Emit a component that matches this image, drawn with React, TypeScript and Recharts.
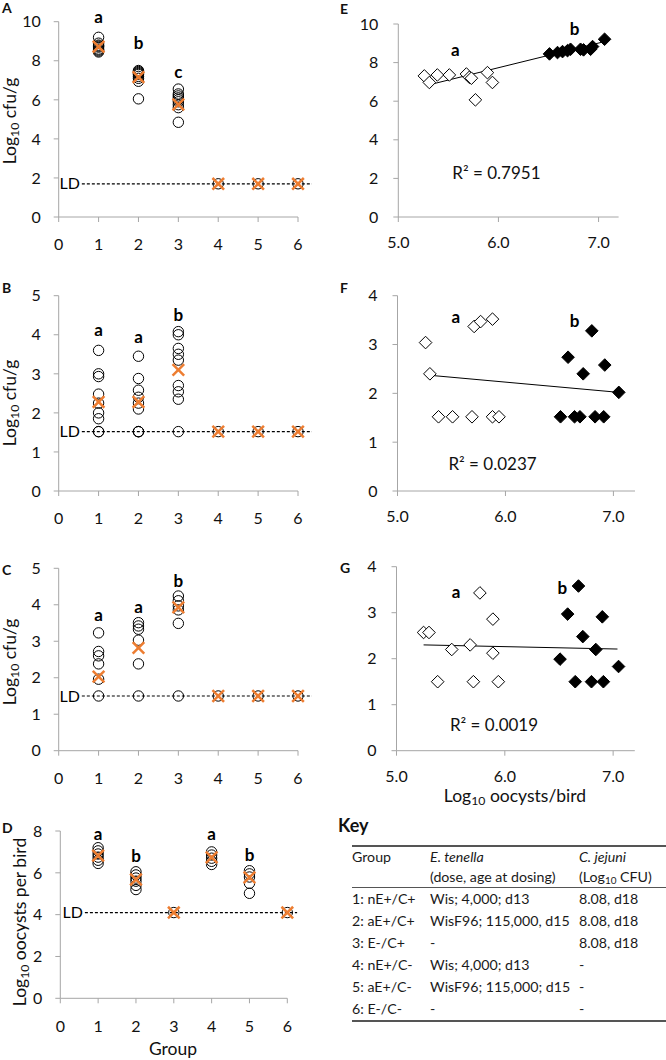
import { ScatterChart, Scatter, XAxis, YAxis, ReferenceLine, ReferenceDot } from "recharts";

const FONT = "Lato, 'DejaVu Sans', sans-serif";
const AXIS = "#a6a6a6";
const ORANGE = "#ed7d31";

const groups = [1, 2, 3, 4, 5, 6];
const groupTicks = [0, 1, 2, 3, 4, 5, 6];

// A – caecal C. jejuni, log10 cfu/g (one list per group)
const cecaA = [
  [9.2, 8.9, 8.8, 8.75, 8.7, 8.6, 8.55, 8.5, 8.45],
  [7.5, 7.45, 7.4, 7.35, 7.3, 7.2, 7.1, 6.95, 6.05],
  [6.55, 6.3, 6.2, 6.1, 6.0, 5.9, 5.75, 5.6, 4.85],
  [1.7],
  [1.7],
  [1.7],
];
const meanA = [8.72, 7.16, 5.76, 1.7, 1.7, 1.7];
const lettersA = ["a", "b", "c"];

// B
const cecaB = [
  [3.6, 3.0, 2.93, 2.48, 2.25, 2.0, 1.85, 1.52, 1.52],
  [3.45, 2.88, 2.58, 2.4, 2.25, 2.1, 1.52, 1.52, 1.52],
  [4.08, 4.0, 3.65, 3.5, 3.35, 2.7, 2.54, 2.35, 1.52],
  [1.52],
  [1.52],
  [1.52],
];
const meanB = [2.28, 2.28, 3.1, 1.52, 1.52, 1.52];
const lettersB = ["a", "a", "b"];

// C
const cecaC = [
  [3.23, 2.72, 2.6, 2.38, 1.96, 1.5],
  [3.51, 3.42, 3.33, 3.03, 2.38, 1.5],
  [4.24, 4.11, 3.97, 3.86, 3.49, 1.5],
  [1.5],
  [1.5],
  [1.5],
];
const meanC = [2.03, 2.82, 3.93, 1.5, 1.5, 1.5];
const lettersC = ["a", "a", "b"];

// D – oocysts per bird
const oocystsD = [
  [7.2, 7.05, 6.9, 6.75, 6.6, 6.45],
  [6.05, 5.9, 5.75, 5.6, 5.4, 5.2],
  [4.1],
  [7.0, 6.85, 6.7, 6.55, 6.4],
  [6.1, 5.95, 5.8, 5.5, 5.02],
  [4.1],
];
const meanD = [6.82, 5.68, 4.1, 6.74, 5.78, 4.1];
const lettersD = ["a", "b", "", "a", "b"];

// E, F, G – [log10 oocysts/bird, log10 cfu/g]
const naiveE = [[5.26, 7.31], [5.31, 6.97], [5.39, 7.36], [5.51, 7.36], [5.68, 7.41], [5.71, 7.24], [5.73, 7.19], [5.77, 6.07], [5.89, 7.48], [5.94, 6.97]];
const adaptedE = [[6.51, 8.45], [6.59, 8.52], [6.64, 8.57], [6.69, 8.62], [6.72, 8.69], [6.82, 8.69], [6.85, 8.66], [6.92, 8.69], [6.94, 8.83], [7.06, 9.21]];
const trendE = [[5.3, 6.84], [7.06, 9.09]];

const naiveF = [[5.26, 3.04], [5.3, 2.4], [5.38, 1.52], [5.51, 1.52], [5.69, 1.52], [5.71, 3.37], [5.77, 3.47], [5.88, 3.52], [5.88, 1.52], [5.94, 1.52]];
const adaptedF = [[6.51, 1.52], [6.58, 2.74], [6.64, 1.52], [6.69, 1.52], [6.72, 2.4], [6.8, 3.28], [6.83, 1.52], [6.91, 1.52], [6.92, 2.58], [7.05, 2.02]];
const trendF = [[5.3, 2.37], [7.05, 2.02]];

const naiveG = [[5.25, 2.57], [5.3, 2.57], [5.38, 1.5], [5.51, 2.2], [5.68, 2.3], [5.71, 1.5], [5.77, 3.43], [5.89, 2.86], [5.89, 2.12], [5.94, 1.5]];
const adaptedG = [[6.51, 1.99], [6.58, 2.97], [6.65, 1.5], [6.68, 3.58], [6.72, 2.48], [6.8, 1.5], [6.84, 2.2], [6.9, 2.91], [6.91, 1.5], [7.05, 1.83]];
const trendG = [[5.25, 2.3], [7.04, 2.21]];

const oocystTicks = [5, 6, 7];

type Box = { x: number; y: number; w: number; h: number };
type Plot = { l: number; t: number; r: number; b: number };

const YW = 40;
const XH = 40;

const marginFor = (box: Box, plot: Plot) => ({
  left: plot.l - box.x - YW,
  top: plot.t - box.y,
  right: box.x + box.w - plot.r,
  bottom: box.y + box.h - plot.b - XH,
});

const OpenCircle = (p: any) => (
  <circle cx={p.cx} cy={p.cy} r={5.2} fill="none" stroke="#000" strokeWidth={1} />
);

const MeanCross = (p: any) => {
  const s = 5.8;
  return (
    <g stroke={ORANGE} strokeWidth={2.5}>
      <line x1={p.cx - s} y1={p.cy - s} x2={p.cx + s} y2={p.cy + s} />
      <line x1={p.cx - s} y1={p.cy + s} x2={p.cx + s} y2={p.cy - s} />
    </g>
  );
};

const Diamond = (filled: boolean) => (p: any) => {
  const s = 6.3;
  return (
    <polygon
      points={`${p.cx},${p.cy - s} ${p.cx + s},${p.cy} ${p.cx},${p.cy + s} ${p.cx - s},${p.cy}`}
      fill={filled ? "#000" : "#fff"}
      stroke="#000"
      strokeWidth={1}
    />
  );
};

const tickStyle = { fontSize: 16, fill: "#111" };
const letterStyle = { fontSize: 17, fontWeight: 700, fill: "#000" };

type StripProps = {
  box: Box;
  plot: Plot;
  values: number[][];
  means: number[];
  yMax: number;
  yTicks: number[];
  ld: number;
  ldSpan: number[];
  letters: string[];
  letterY: number[];
};

const StripPanel = ({ box, plot, values, means, yMax, yTicks, ld, ldSpan, letters, letterY }: StripProps) => {
  const points = values.flatMap((vs, i) => vs.map((y) => ({ x: groups[i], y })));
  const meanPts = means.map((y, i) => ({ x: groups[i], y }));
  return (
    <div style={{ position: "absolute", left: box.x, top: box.y }}>
      <ScatterChart width={box.w} height={box.h} margin={marginFor(box, plot)}>
        <XAxis
          type="number"
          dataKey="x"
          domain={[0, 6]}
          ticks={groupTicks}
          stroke={AXIS}
          tickSize={5}
          tickMargin={17}
          height={XH}
          tick={tickStyle}
        />
        <YAxis
          type="number"
          dataKey="y"
          domain={[0, yMax]}
          ticks={yTicks}
          stroke={AXIS}
          tickSize={5}
          tickMargin={13}
          width={YW}
          tick={tickStyle}
        />
        <ReferenceLine
          segment={[{ x: ldSpan[0], y: ld }, { x: ldSpan[1], y: ld }]}
          stroke="#000"
          strokeWidth={1.2}
          strokeDasharray="3 2"
          ifOverflow="visible"
          label={{ value: "LD", position: "left", offset: 2, fontSize: 16, fill: "#000" }}
        />
        <Scatter data={points} shape={OpenCircle} isAnimationActive={false} />
        <Scatter data={meanPts} shape={MeanCross} isAnimationActive={false} />
        {letters.map((t, i) =>
          t ? (
            <ReferenceDot
              key={i}
              x={groups[i]}
              y={letterY[i]}
              r={0}
              ifOverflow="visible"
              label={{ value: t, position: "center", ...letterStyle }}
            />
          ) : null
        )}
      </ScatterChart>
    </div>
  );
};

type CorrProps = {
  box: Box;
  plot: Plot;
  naive: number[][];
  adapted: number[][];
  trend: number[][];
  yMax: number;
  yTicks: number[];
  r2: string;
  r2At: number[];
  aAt: number[];
  bAt: number[];
};

const CorrPanel = ({ box, plot, naive, adapted, trend, yMax, yTicks, r2, r2At, aAt, bAt }: CorrProps) => (
  <div style={{ position: "absolute", left: box.x, top: box.y }}>
    <ScatterChart width={box.w} height={box.h} margin={marginFor(box, plot)}>
      <XAxis
        type="number"
        dataKey="x"
        domain={[5, 7.2]}
        ticks={oocystTicks}
        tickFormatter={(v: number) => v.toFixed(1)}
        stroke={AXIS}
        tickSize={5}
        tickMargin={15}
        height={XH}
        tick={tickStyle}
      />
      <YAxis
        type="number"
        dataKey="y"
        domain={[0, yMax]}
        ticks={yTicks}
        stroke={AXIS}
        tickSize={5}
        tickMargin={15}
        width={YW}
        tick={tickStyle}
      />
      <ReferenceLine
        segment={[{ x: trend[0][0], y: trend[0][1] }, { x: trend[1][0], y: trend[1][1] }]}
        stroke="#000"
        strokeWidth={1}
        ifOverflow="visible"
      />
      <Scatter data={naive.map(([x, y]) => ({ x, y }))} shape={Diamond(false)} isAnimationActive={false} />
      <Scatter data={adapted.map(([x, y]) => ({ x, y }))} shape={Diamond(true)} isAnimationActive={false} />
      <ReferenceDot x={aAt[0]} y={aAt[1]} r={0} ifOverflow="visible" label={{ value: "a", position: "center", ...letterStyle }} />
      <ReferenceDot x={bAt[0]} y={bAt[1]} r={0} ifOverflow="visible" label={{ value: "b", position: "center", ...letterStyle }} />
      <ReferenceDot
        x={r2At[0]}
        y={r2At[1]}
        r={0}
        ifOverflow="visible"
        label={{ value: r2, position: "center", fontSize: 17, fill: "#111" }}
      />
    </ScatterChart>
  </div>
);

const PanelLetter = ({ x, y, t }: { x: number; y: number; t: string }) => (
  <div style={{ position: "absolute", left: x, top: y, fontSize: 14, fontWeight: 700, lineHeight: 1 }}>{t}</div>
);

const Log10 = ({ rest }: { rest: string }) => (
  <span>
    Log<sub style={{ fontSize: "0.7em", verticalAlign: "-0.25em" }}>10</sub> {rest}
  </span>
);

const YTitle = ({ x, y, rest }: { x: number; y: number; rest: string }) => (
  <div
    style={{
      position: "absolute",
      left: x,
      top: y,
      transform: "translate(-50%, -50%) rotate(-90deg)",
      whiteSpace: "nowrap",
      fontSize: 17.5,
      lineHeight: 1,
    }}
  >
    <Log10 rest={rest} />
  </div>
);

const keyRows = [
  ["1: nE+/C+", "Wis; 4,000; d13", "8.08, d18"],
  ["2: aE+/C+", "WisF96; 115,000, d15", "8.08, d18"],
  ["3: E-/C+", "-", "8.08, d18"],
  ["4: nE+/C-", "Wis; 4,000; d13", "-"],
  ["5: aE+/C-", "WisF96; 115,000; d15", "-"],
  ["6: E-/C-", "-", "-"],
];

// column left edges inside the table (table starts at x = 352)
const colX = [0, 78, 227];

const Row = ({ cells, h, italic, line }: { cells: any[]; h: number; italic?: boolean; line?: boolean }) => (
  <div
    style={{
      position: "relative",
      height: h,
      lineHeight: `${h}px`,
      borderBottom: line ? "1px solid #555" : undefined,
    }}
  >
    {cells.map((c, i) => (
      <span
        key={i}
        style={{ position: "absolute", left: colX[i], top: 0, fontStyle: italic && i > 0 ? "italic" : "normal" }}
      >
        {c}
      </span>
    ))}
  </div>
);

const KeyTable = () => (
  <div style={{ position: "absolute", left: 338, top: 812 }}>
    <div style={{ fontSize: 18, fontWeight: 700, lineHeight: "26px" }}>Key</div>
    <div
      style={{
        position: "absolute",
        left: 14,
        top: 33,
        width: 320,
        borderTop: "2px solid #555",
        borderBottom: "2px solid #555",
        fontSize: 14.2,
        color: "#1a1a1a",
        whiteSpace: "nowrap",
      }}
    >
      <Row cells={["Group", "E. tenella", "C. jejuni"]} h={20} italic />
      <Row
        cells={[
          "",
          "(dose, age at dosing)",
          <span>
            (Log<sub style={{ fontSize: "0.7em", verticalAlign: "-0.25em", lineHeight: 0 }}>10</sub> CFU)
          </span>,
        ]}
        h={20}
        line
      />
      {keyRows.map((r, i) => (
        <Row key={i} cells={r} h={22} />
      ))}
    </div>
  </div>
);

export default function App() {
  return (
    <div
      style={{
        position: "absolute",
        left: 0,
        top: 0,
        width: 666,
        height: 1060,
        background: "#fff",
        fontFamily: FONT,
        color: "#111",
        overflow: "hidden",
      }}
    >
      <StripPanel
        box={{ x: 0, y: 0, w: 330, h: 262 }}
        plot={{ l: 58.7, t: 21.7, r: 298, b: 217 }}
        values={cecaA}
        means={meanA}
        yMax={10}
        yTicks={[0, 2, 4, 6, 8, 10]}
        ld={1.7}
        ldSpan={[0.58, 6.35]}
        letters={lettersA}
        letterY={[10.24, 8.91, 7.42]}
      />
      <StripPanel
        box={{ x: 0, y: 262, w: 330, h: 270 }}
        plot={{ l: 58.7, t: 295.7, r: 298, b: 491 }}
        values={cecaB}
        means={meanB}
        yMax={5}
        yTicks={[0, 1, 2, 3, 4, 5]}
        ld={1.52}
        ldSpan={[0.58, 6.35]}
        letters={lettersB}
        letterY={[4.12, 3.94, 4.5]}
      />
      <StripPanel
        box={{ x: 0, y: 532, w: 330, h: 262 }}
        plot={{ l: 58.7, t: 568.3, r: 298, b: 750.7 }}
        values={cecaC}
        means={meanC}
        yMax={5}
        yTicks={[0, 1, 2, 3, 4, 5]}
        ld={1.5}
        ldSpan={[0.58, 6.35]}
        letters={lettersC}
        letterY={[3.72, 3.95, 4.66]}
      />
      <StripPanel
        box={{ x: 0, y: 800, w: 330, h: 240 }}
        plot={{ l: 60.3, t: 831, r: 287.3, b: 998.3 }}
        values={oocystsD}
        means={meanD}
        yMax={8}
        yTicks={[0, 1, 2, 3, 4, 5, 6, 7, 8]}
        ld={4.1}
        ldSpan={[0.65, 6.26]}
        letters={lettersD}
        letterY={[7.86, 6.8, 0, 7.86, 6.85]}
      />
      <CorrPanel
        box={{ x: 330, y: 0, w: 336, h: 262 }}
        plot={{ l: 398.3, t: 24, r: 618.6, b: 217 }}
        naive={naiveE}
        adapted={adaptedE}
        trend={trendE}
        yMax={10}
        yTicks={[0, 2, 4, 6, 8, 10]}
        r2="R² = 0.7951"
        r2At={[5.98, 2.28]}
        aAt={[5.57, 8.65]}
        bAt={[6.76, 9.74]}
      />
      <CorrPanel
        box={{ x: 330, y: 262, w: 336, h: 270 }}
        plot={{ l: 397.5, t: 295.7, r: 635, b: 491 }}
        naive={naiveF}
        adapted={adaptedF}
        trend={trendF}
        yMax={4}
        yTicks={[0, 1, 2, 3, 4]}
        r2="R² = 0.0237"
        r2At={[5.88, 0.55]}
        aAt={[5.54, 3.57]}
        bAt={[6.64, 3.49]}
      />
      <CorrPanel
        box={{ x: 330, y: 532, w: 336, h: 262 }}
        plot={{ l: 396.5, t: 566.7, r: 634.8, b: 750.7 }}
        naive={naiveG}
        adapted={adaptedG}
        trend={trendG}
        yMax={4}
        yTicks={[0, 1, 2, 3, 4]}
        r2="R² = 0.0019"
        r2At={[5.9, 0.56]}
        aAt={[5.55, 3.46]}
        bAt={[6.53, 3.54]}
      />

      <PanelLetter x={2} y={1} t="A" />
      <PanelLetter x={2} y={281} t="B" />
      <PanelLetter x={2} y={563} t="C" />
      <PanelLetter x={2} y={821} t="D" />
      <PanelLetter x={340} y={2} t="E" />
      <PanelLetter x={340} y={281} t="F" />
      <PanelLetter x={340} y={561} t="G" />

      <YTitle x={11} y={121} rest="cfu/g" />
      <YTitle x={11} y={403} rest="cfu/g" />
      <YTitle x={11} y={662} rest="cfu/g" />
      <YTitle x={21} y={922} rest="oocysts per bird" />

      <div
        style={{
          position: "absolute",
          left: 173,
          top: 1049,
          transform: "translate(-50%, -50%)",
          fontSize: 17.5,
          lineHeight: 1,
        }}
      >
        Group
      </div>
      <div
        style={{
          position: "absolute",
          left: 515,
          top: 797,
          transform: "translate(-50%, -50%)",
          fontSize: 17.5,
          lineHeight: 1,
          whiteSpace: "nowrap",
        }}
      >
        <Log10 rest="oocysts/bird" />
      </div>

      <KeyTable />
    </div>
  );
}
